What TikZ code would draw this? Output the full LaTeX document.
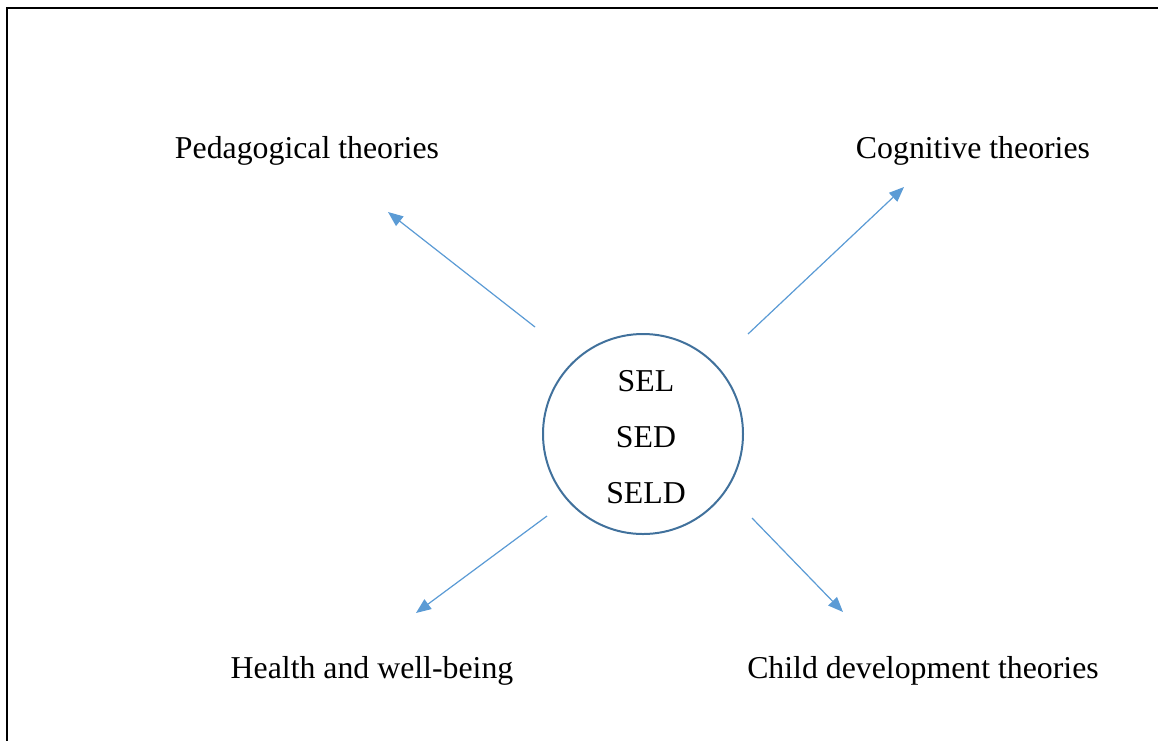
\documentclass[tikz,border=0pt]{standalone}
\usepackage{fontspec}
\setmainfont{Liberation Serif}
\usetikzlibrary{arrows.meta}
\definecolor{arrowblue}{HTML}{5B9BD5}
\definecolor{ringblue}{HTML}{41719C}
\begin{document}
\begin{tikzpicture}[x=1pt,y=-1pt,
  lbl/.style={anchor=base,inner sep=0pt,font=\fontsize{31.8}{38}\selectfont},
  conn/.style={draw=arrowblue,line width=1.2pt,-{Triangle[length=15pt,width=12pt]},fill=arrowblue},
  frameline/.style={draw=black,line width=2pt}]
\useasboundingbox (0,0) rectangle (1158,740);
% frame (left and top edges)
\coordinate (fbl) at (7,741);
\coordinate (ftl) at (7,8);
\coordinate (ftr) at (1159,8);
\draw[frameline] (fbl) -- (ftl) -- (ftr);
% central circle
\node[circle,draw=ringblue,line width=2pt,minimum size=200pt,inner sep=0pt] (c) at (643,434) {};
\node[lbl] (sel) at (646,391) {SEL};
\node[lbl] (sed) at (646,447) {SED};
\node[lbl] (seld) at (646,503) {SELD};
% labels
\node[lbl] (ped) at (307,158) {Pedagogical theories};
\node[lbl] (cog) at (973,158) {Cognitive theories};
\node[lbl] (hea) at (372,678) {Health and well-being};
\node[lbl] (chi) at (923,678) {Child development theories};
% arrow endpoints
\coordinate (a1s) at (535,327); \coordinate (a1e) at (388,212);
\coordinate (a2s) at (748,334); \coordinate (a2e) at (904,187);
\coordinate (a3s) at (547,516); \coordinate (a3e) at (416,613);
\coordinate (a4s) at (752,518); \coordinate (a4e) at (843,612);
\draw[conn] (a1s) -- (a1e);
\draw[conn] (a2s) -- (a2e);
\draw[conn] (a3s) -- (a3e);
\draw[conn] (a4s) -- (a4e);
\end{tikzpicture}
\end{document}
